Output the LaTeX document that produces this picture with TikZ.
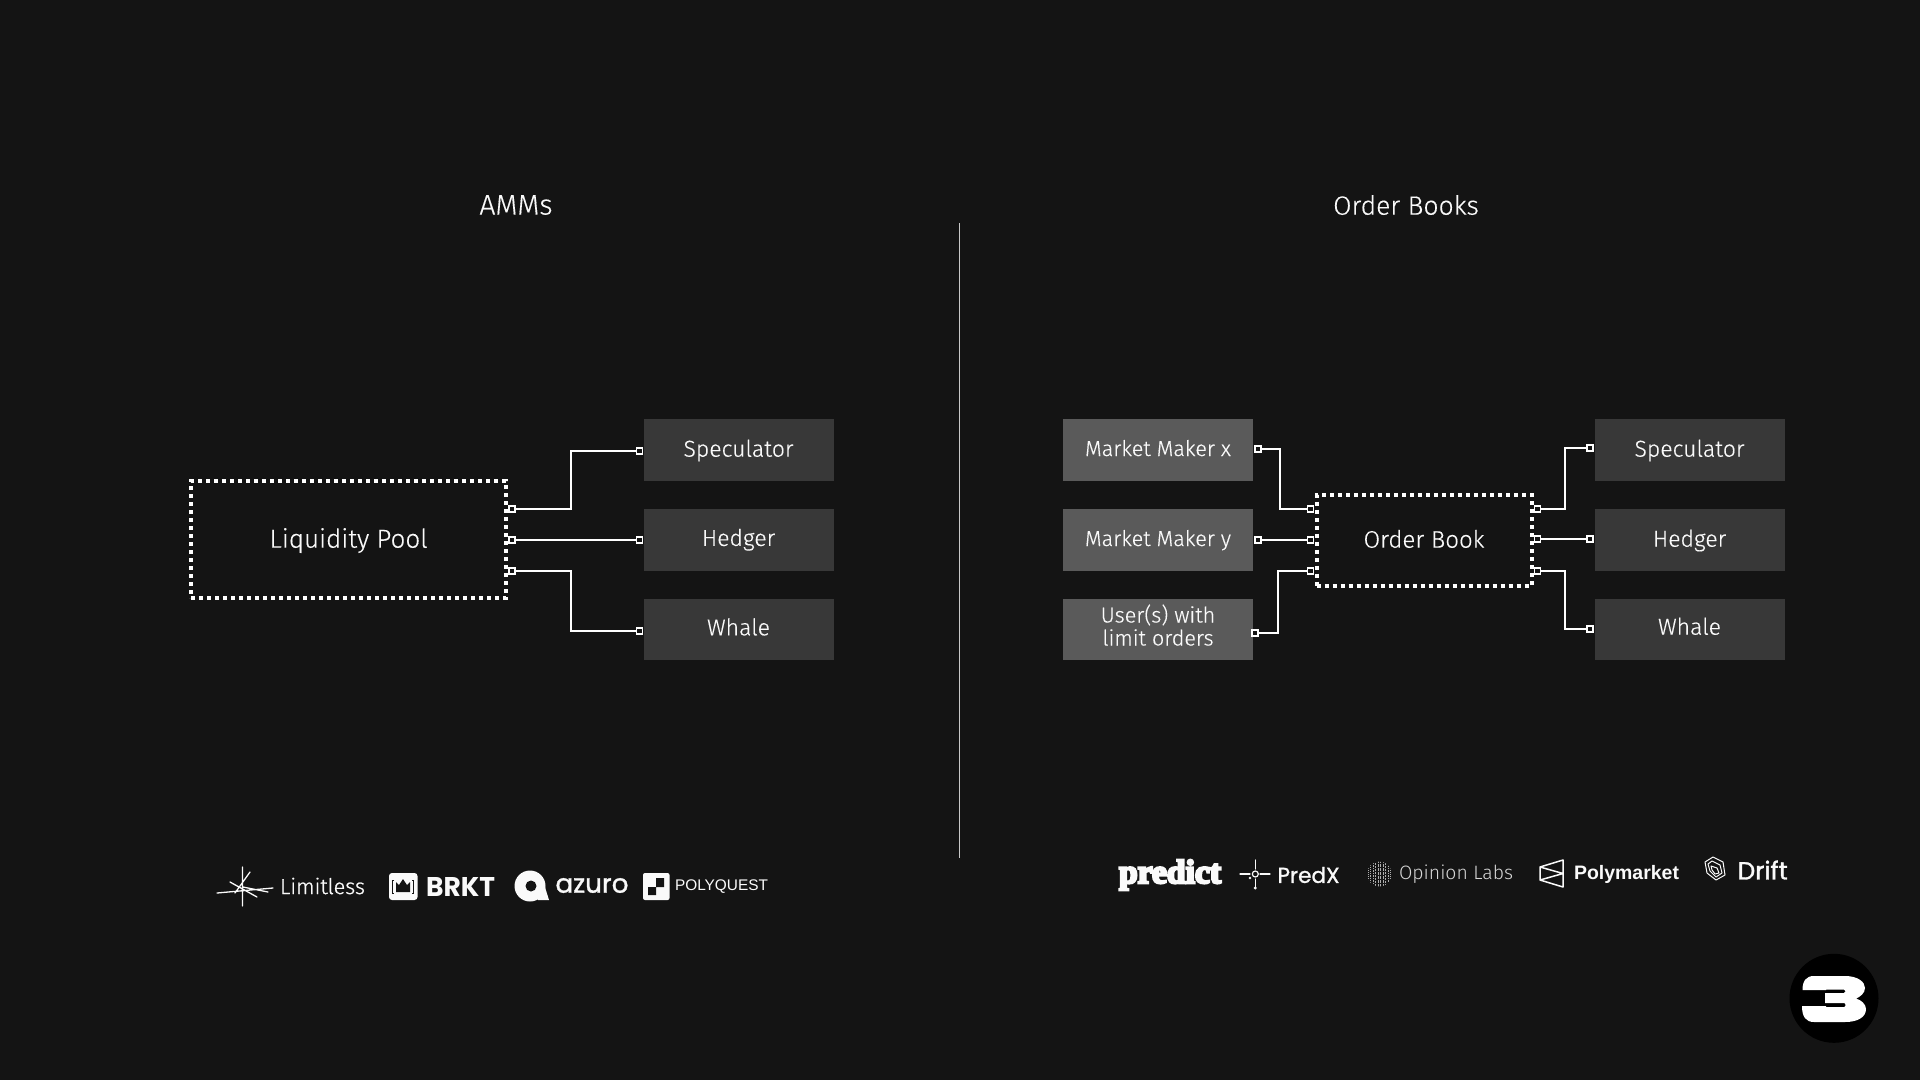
\documentclass[tikz,border=0pt]{standalone}
\usepackage{fontspec}
\setmainfont{Fira Sans Light}[FakeBold=0.3]
\newfontfamily\logosans{Liberation Sans}
\newfontfamily\logopop{Poppins}
\newfontfamily\logopopm{Poppins}[FakeBold=1.2]
\newfontfamily\logoserif{Liberation Serif}[FakeBold=7]
\newfontfamily\logothin{Fira Sans Light}
\newfontfamily\logomid{Fira Sans Light}[FakeBold=0.8]
\definecolor{bgc}{HTML}{141414}
\definecolor{darkbox}{HTML}{383838}
\definecolor{midbox}{HTML}{5A5A5A}
\definecolor{ink}{HTML}{FAFAFA}
\definecolor{rulec}{HTML}{C8C8C8}
\tikzset{
  panelbox/.style={rectangle,fill=darkbox,minimum width=190pt,minimum height=61.5pt,inner sep=0pt,outer sep=0pt,text=ink,align=center,font=\fontsize{23}{22.5}\selectfont},
  makerbox/.style={panelbox,fill=midbox,font=\fontsize{21.6}{22.5}\selectfont},
  dotbox/.style={rectangle,draw=white,line width=4pt,dash pattern=on 4pt off 4pt,inner sep=0pt,outer sep=0pt,text=ink},
  port/.style={rectangle,draw=white,line width=1.8pt,fill=bgc,minimum size=6pt,inner sep=0pt,outer sep=0pt},
  conn/.style={draw=white,line width=1.9pt,line join=miter},
  title/.style={text=ink,font=\fontsize{26.5}{30}\selectfont},
  logotext/.style={text=ink,inner sep=0pt,outer sep=0pt,anchor=west},
  logoshape/.style={draw=ink,line width=1.4pt,line cap=round,line join=round}
}
\newcommand{\fitw}[2]{\resizebox{#1pt}{!}{#2}}
\newcommand{\boxtext}[2]{\raisebox{-#1pt}[0pt][0pt]{#2}}
\begin{document}
\begin{tikzpicture}[x=1pt,y=-1pt]
\useasboundingbox (0,0) rectangle (1920,1080);
\fill[bgc] (0,0) rectangle (1920,1080);

% titles and divider
\node[title,font=\fontsize{28.5}{30}\selectfont] (amm) at (516,205) {AMMs};
\node[title] (obt) at (1406,205) {Order Books};
\coordinate (divtop) at (959.5,223);
\coordinate (divbot) at (959.5,858);
\draw[rulec,line width=1.2pt] (divtop) -- (divbot);

% left panel
\node[dotbox,minimum width=315pt,minimum height=117pt,font=\fontsize{26}{30}\selectfont] (lp) at (348.5,539.5) {\boxtext{8.2}{Liquidity Pool}};
\node[panelbox] (s1) at (738.5,450) {\boxtext{6.7}{Speculator}};
\node[panelbox] (h1) at (738.5,540) {\boxtext{5.9}{Hedger}};
\node[panelbox] (w1) at (738.5,629.5) {\boxtext{5.8}{Whale}};
\node[port] (lpa) at (512,508.7) {};
\node[port] (lpb) at (512,540) {};
\node[port] (lpc) at (512,570.7) {};
\node[port] (s1p) at (639.5,450.7) {};
\node[port] (h1p) at (639.5,540) {};
\node[port] (w1p) at (639.5,631) {};
\coordinate (bl) at (570.7,540);
\draw[conn] (lpa) -- (lpa -| bl) -- (s1p -| bl) -- (s1p);
\draw[conn] (lpb) -- (h1p);
\draw[conn] (lpc) -- (lpc -| bl) -- (w1p -| bl) -- (w1p);

% right panel
\node[dotbox,minimum width=215pt,minimum height=91pt,font=\fontsize{24}{30}\selectfont] (ob) at (1424,540) {\boxtext{7.7}{Order Book}};
\node[makerbox] (m1) at (1158,450) {\boxtext{6}{Market Maker x}};
\node[makerbox] (m2) at (1158,540) {\boxtext{6}{Market Maker y}};
\node[makerbox] (m3) at (1158,629.5) {\boxtext{16}{\parbox[b]{180pt}{\centering\fontsize{21.6}{23}\selectfont User(s) with\\limit orders}}};
\node[panelbox] (s2) at (1689.5,450) {\boxtext{6.7}{Speculator}};
\node[panelbox] (h2) at (1689.5,540) {\boxtext{6.7}{Hedger}};
\node[panelbox] (w2) at (1689.5,629.5) {\boxtext{5.2}{Whale}};
\node[port] (m1p) at (1257.6,449.3) {};
\node[port] (m2p) at (1257.6,540) {};
\node[port] (m3p) at (1254.8,633.3) {};
\node[port] (oba) at (1310.5,509) {};
\node[port] (obb) at (1310.5,540) {};
\node[port] (obc) at (1310.5,571) {};
\node[port] (obd) at (1537.5,509) {};
\node[port] (obe) at (1537.5,539.3) {};
\node[port] (obf) at (1537.5,571) {};
\node[port] (s2p) at (1590.3,448.3) {};
\node[port] (h2p) at (1590.3,539.3) {};
\node[port] (w2p) at (1590.3,628.7) {};
\coordinate (br1) at (1280.3,540);
\coordinate (br3) at (1278,540);
\coordinate (br4) at (1565.3,540);
\draw[conn] (m1p) -- (m1p -| br1) -- (oba -| br1) -- (oba);
\draw[conn] (m2p) -- (obb);
\draw[conn] (m3p) -- (m3p -| br3) -- (obc -| br3) -- (obc);
\draw[conn] (obd) -- (obd -| br4) -- (s2p -| br4) -- (s2p);
\draw[conn] (obe) -- (h2p);
\draw[conn] (obf) -- (obf -| br4) -- (w2p -| br4) -- (w2p);

% left logos
\draw[logoshape,line width=1.3pt] (242.5,867) -- (242.5,906) (217,893) -- (273,888) (230,882) -- (257,897) (235,893) -- (250,872) (243,887) -- (268,892);
\node[logotext] (tlimit) at (280,886) {\logomid\fitw{85}{Limitless}};
\fill[ink,rounded corners=3pt] (389,873) rectangle (417.5,900);
\fill[bgc] (396,882) -- (399,885) -- (403,879) -- (407,885) -- (410,882) -- (410,892) -- (396,892) -- cycle;
\draw[bgc,line width=1pt] (394,880) -- (392.5,880) -- (392.5,893) -- (394,893) (412,880) -- (413.5,880) -- (413.5,893) -- (412,893);
\node[logotext] (tbrkt) at (426,887) {\logopop\bfseries\resizebox{69pt}{19pt}{BRKT}};
\fill[ink] (530,886) circle (15.5pt);
\fill[ink] (534,884) -- (544,884) -- (549,900) -- (538,900) -- cycle;
\fill[bgc] (531,886) circle (5.5pt);
\node[logotext] (tazuro) at (555.5,885.5) {\logopopm\fitw{73}{azuro}};
\fill[ink,rounded corners=2pt] (643,873) rectangle (669.5,900);
\fill[bgc] (656,878) -- (664,878) -- (664,887) -- (656,887) -- cycle (648,887) -- (656,887) -- (656,895) -- (648,895) -- cycle;
\node[logotext] (tpoly) at (675,886.5) {\logosans\fitw{93}{POLYQUEST}};

% right logos
\node[logotext] (tpred) at (1119,875) {\logoserif\bfseries\fitw{102}{predict}};
\draw[logoshape,line width=1.1pt] (1240,874) -- (1250,874) (1260,874) -- (1270,874) (1255.3,860) -- (1255.3,869) (1255.3,879) -- (1255.3,888);
\draw[logoshape,line width=1.2pt] (1255.3,874) circle (3pt);
\fill[ink] (1255.3,888) circle (1.6pt) (1250,878) circle (1.4pt);
\node[logotext] (tpredx) at (1277.5,875) {\logopopm\fitw{62}{PredX}};
\begin{scope}
\clip (1379.5,874) circle (12.5pt);
\foreach \vx/\dk in {1368/1,1370.5/1.2,1373/1.5,1375.5/2,1378/3,1380.5/3,1383/3,1385.5/2,1388/1.5,1390.5/1}
  \draw[rulec!85!bgc,line width=0.8pt,dash pattern={on \dk pt off 1pt}] (\vx,860) -- (\vx,888);
\end{scope}
\node[logotext,text=ink!85!bgc] (topin) at (1399,874.5) {\logothin\fitw{114}{Opinion Labs}};
\draw[logoshape,line width=1.5pt] (1563,860) -- (1563,887) -- (1540,880) -- (1540,867) -- cycle (1540,867) -- (1563,873.5) -- (1540,880);
\node[logotext] (tpm) at (1574,874.5) {\logosans\bfseries\fitw{105}{Polymarket}};
\draw[logoshape,line width=1pt] (1713,857) -- (1723,862) -- (1725,875) -- (1716,880) -- (1707,873) -- (1705,862) -- cycle;
\draw[logoshape,line width=1pt] (1712,861) -- (1720,865) -- (1722,873) -- (1716,877) -- (1710,871) -- (1708,864) -- cycle;
\draw[logoshape,line width=1pt] (1711,866) -- (1717,868) -- (1719,873) -- (1715,874) -- (1712,870) -- cycle;
\node[logotext] (tdrift) at (1737.7,870) {\logopopm\fitw{50}{Drift}};

% corner mark
\fill[black] (1834,998.3) circle (44.5pt);
\fill[white] (1802.5,990) .. controls (1802.5,981) and (1806,976) .. (1814,976) -- (1845,976) .. controls (1858,976) and (1865,982) .. (1865,988) .. controls (1865,993) and (1860,997) .. (1856,998.5) .. controls (1861,1000) and (1866,1004) .. (1866,1009) .. controls (1866,1017) and (1858,1022) .. (1845,1022) -- (1814,1022) .. controls (1806,1022) and (1802,1017) .. (1802,1006) -- (1826,1006) -- (1826,1007) -- (1844,1007) .. controls (1846,1007) and (1846,1003) .. (1844,1003) -- (1825,1003) -- (1825,993) -- (1844,993) .. controls (1846,993) and (1846,989.5) .. (1844,989.5) -- (1826,989.5) -- (1826,990) -- cycle;
\end{tikzpicture}
\end{document}
